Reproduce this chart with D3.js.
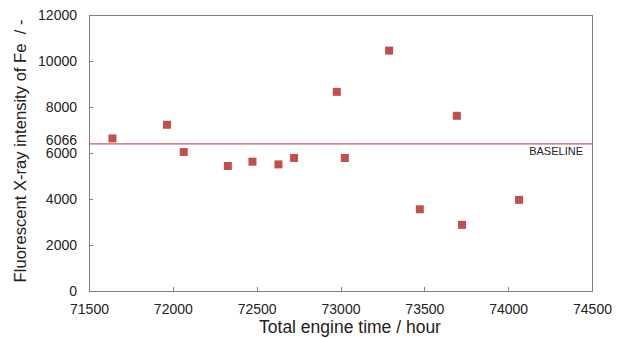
<!DOCTYPE html>
<html lang="en">
<head>
    <meta charset="UTF-8">
    <title>Fe intensity</title>
    <script src="https://d3js.org/d3.v7.min.js" charset="utf-8"></script>
    <style>
        body { margin: 0; background: #fff; }
        svg text { font-family: "Liberation Sans", Arial, sans-serif; fill: #222; }
        .axis path, .axis line { fill: none; stroke: #808080; shape-rendering: crispEdges; }
        .axis text { font-size: 14px; }
    </style>
</head>
<body>
<script>
    // data
    let engineHours = [71640, 71965, 72065, 72328, 72475, 72630, 72723, 72978, 73026, 73290, 73473, 73694, 73725, 74065];
    let feIntensity = [6633, 7228, 6043, 5436, 5622, 5505, 5783, 8659, 5783, 10451, 3553, 7618, 2876, 3961];
    let xTicks = [71500, 72000, 72500, 73000, 73500, 74000, 74500];
    let yTicks = [0, 2000, 4000, 6000, 8000, 10000, 12000];
    let baselineValue = 6400;   // where the line sits in the picture
    let baselineLabel = '6066';

    var width = 626, height = 338;
    var mLeft = 89, mRight = 592, mTop = 15, mBottom = 291;

    var svg = d3.select('body').append('svg').attr('width', width).attr('height', height);

    let x = d3.scaleLinear().domain([71500, 74500]).range([mLeft, mRight]);
    let y = d3.scaleLinear().domain([0, 12000]).range([mBottom, mTop]);

    // frame
    svg.append('rect')
        .attr('x', mLeft).attr('y', mTop)
        .attr('width', mRight - mLeft).attr('height', mBottom - mTop)
        .attr('fill', 'none').attr('stroke', '#808080')
        .attr('shape-rendering', 'crispEdges');

    let xAxis = d3.axisBottom(x).tickValues(xTicks).tickFormat(d3.format('d')).tickSizeInner(-4).tickSizeOuter(0).tickPadding(13);
    svg.append('g').attr('class', 'axis')
        .attr('transform', 'translate(0,' + mBottom + ')')
        .call(xAxis);

    let yAxis = d3.axisLeft(y).tickValues(yTicks).tickFormat(d3.format('d')).tickSizeInner(-4).tickSizeOuter(0).tickPadding(12);
    svg.append('g').attr('class', 'axis')
        .attr('transform', 'translate(' + mLeft + ',0)')
        .call(yAxis);

    // baseline
    svg.append('line')
        .attr('x1', mLeft).attr('x2', mRight)
        .attr('y1', y(baselineValue)).attr('y2', y(baselineValue))
        .attr('stroke', '#d0575a').attr('stroke-width', 1.2);

    svg.append('text')
        .attr('x', mLeft - 12).attr('y', y(baselineValue) - 4)
        .attr('text-anchor', 'end').attr('dominant-baseline', 'central')
        .style('font-size', '14px')
        .text(baselineLabel);

    svg.append('text')
        .attr('x', 583).attr('y', y(baselineValue) + 7)
        .attr('text-anchor', 'end').attr('dominant-baseline', 'central')
        .style('font-size', '11px')
        .text('BASELINE');

    // points
    let s = 8;
    svg.selectAll('rect.pt')
        .data(engineHours).enter()
        .append('rect')
        .attr('class', 'pt')
        .attr('x', function (d) { return x(d) - s / 2; })
        .attr('y', function (d, i) { return y(feIntensity[i]) - s / 2; })
        .attr('width', s)
        .attr('height', s)
        .attr('fill', '#c0504d');

    // titles
    svg.append('text')
        .attr('x', 350).attr('y', 333)
        .attr('text-anchor', 'middle')
        .style('font-size', '17.5px')
        .text('Total engine time / hour');

    svg.append('text')
        .attr('transform', 'translate(26,151) rotate(-90)')
        .attr('text-anchor', 'middle')
        .style('font-size', '16.6px')
        .style('white-space', 'pre')
        .text('Fluorescent X-ray intensity of Fe  / -');
</script>
</body>
</html>
